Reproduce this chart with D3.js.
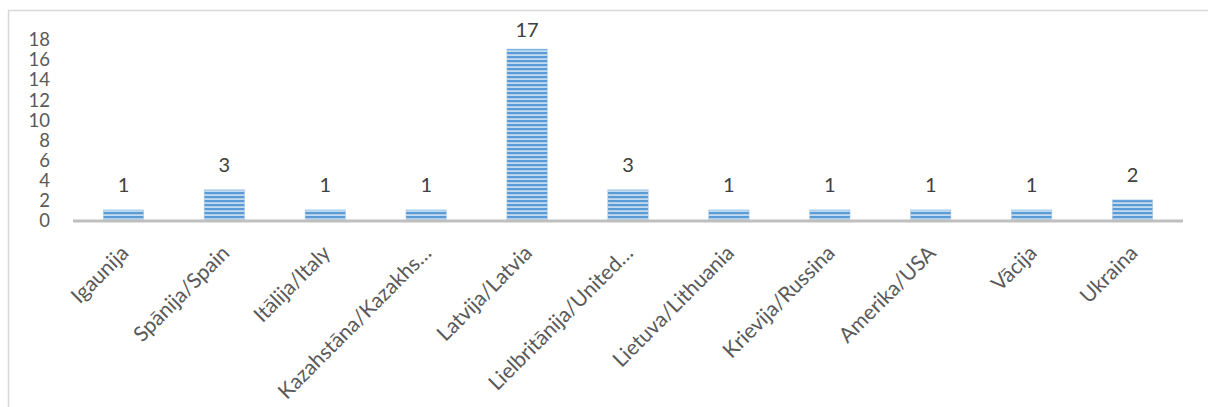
<!DOCTYPE html>
<html><head><meta charset="utf-8">
<script src="https://cdn.jsdelivr.net/npm/d3@7"></script>
<style>body{margin:0;background:#fff;} svg{display:block;}</style>
</head><body>
<svg id="c" width="1208" height="407"></svg>
<script>
const categories = ["Igaunija","Spānija/Spain","Itālija/Italy","Kazahstāna/Kazakhs…","Latvija/Latvia","Lielbritānija/United…","Lietuva/Lithuania","Krievija/Russina","Amerika/USA","Vācija","Ukraina"];
const values = [1,3,1,1,17,3,1,1,1,1,2];
const yTicks = [0,2,4,6,8,10,12,14,16,18];

const svg = d3.select("#c");
const font = "Lato, 'Open Sans', sans-serif";
const textColor = "#595959";

// outer chart border
svg.append("rect").attr("x",8.5).attr("y",10.5).attr("width",1210).attr("height",410)
  .attr("fill","#fff").attr("stroke","#d9d9d9").attr("stroke-width",1.5);

const defs = svg.append("defs");
const pat = defs.append("pattern").attr("id","stripes").attr("patternUnits","userSpaceOnUse")
  .attr("width",8).attr("height",4);
pat.append("rect").attr("width",8).attr("height",4).attr("fill","#c3dbf0");
pat.append("rect").attr("y",0).attr("width",8).attr("height",2.2).attr("fill","#5b9bd5");

const x = d3.scaleBand().domain(categories).range([73,1183]).paddingInner(0.6).paddingOuter(0.3);
const y = d3.scaleLinear().domain([0,18]).range([220,39]);

// y axis labels
const yAxis = d3.axisLeft(y).tickValues(yTicks).tickSize(0).tickPadding(0);
const ya = svg.append("g").attr("transform","translate(50,0)").call(yAxis);
ya.select(".domain").remove();
ya.selectAll("text").attr("font-family",font).attr("font-size",18.5).attr("fill",textColor).attr("dy","0.36em");

// bars
svg.selectAll("rect.bar").data(values).join("rect").attr("class","bar")
  .attr("x",(d,i)=>x(categories[i])).attr("width",x.bandwidth())
  .attr("y",d=>y(d)).attr("height",d=>y(0)-y(d))
  .attr("fill","url(#stripes)").attr("stroke","#a9c9ea").attr("stroke-width",0.6);

// x axis line
svg.append("line").attr("x1",73).attr("x2",1183).attr("y1",221).attr("y2",221)
  .attr("stroke","#bfbfbf").attr("stroke-width",3);

// value labels
svg.selectAll("text.val").data(values).join("text").attr("class","val")
  .attr("x",(d,i)=>x(categories[i])+x.bandwidth()/2).attr("y",d=>Math.max(37, y(d)-18))
  .attr("text-anchor","middle").attr("font-family",font).attr("font-size",20).attr("fill","#404040")
  .text(d=>d);

// category labels
const xAxis = d3.axisBottom(x).tickSize(0).tickPadding(0);
const xa = svg.append("g").attr("transform","translate(-4,244)").call(xAxis);
xa.select(".domain").remove();
xa.selectAll("text").attr("font-family",font).attr("font-size",21).attr("fill",textColor)
  .attr("text-anchor","end").attr("dy","0.7em")
  .attr("transform","rotate(-45)");
</script>
</body></html>
